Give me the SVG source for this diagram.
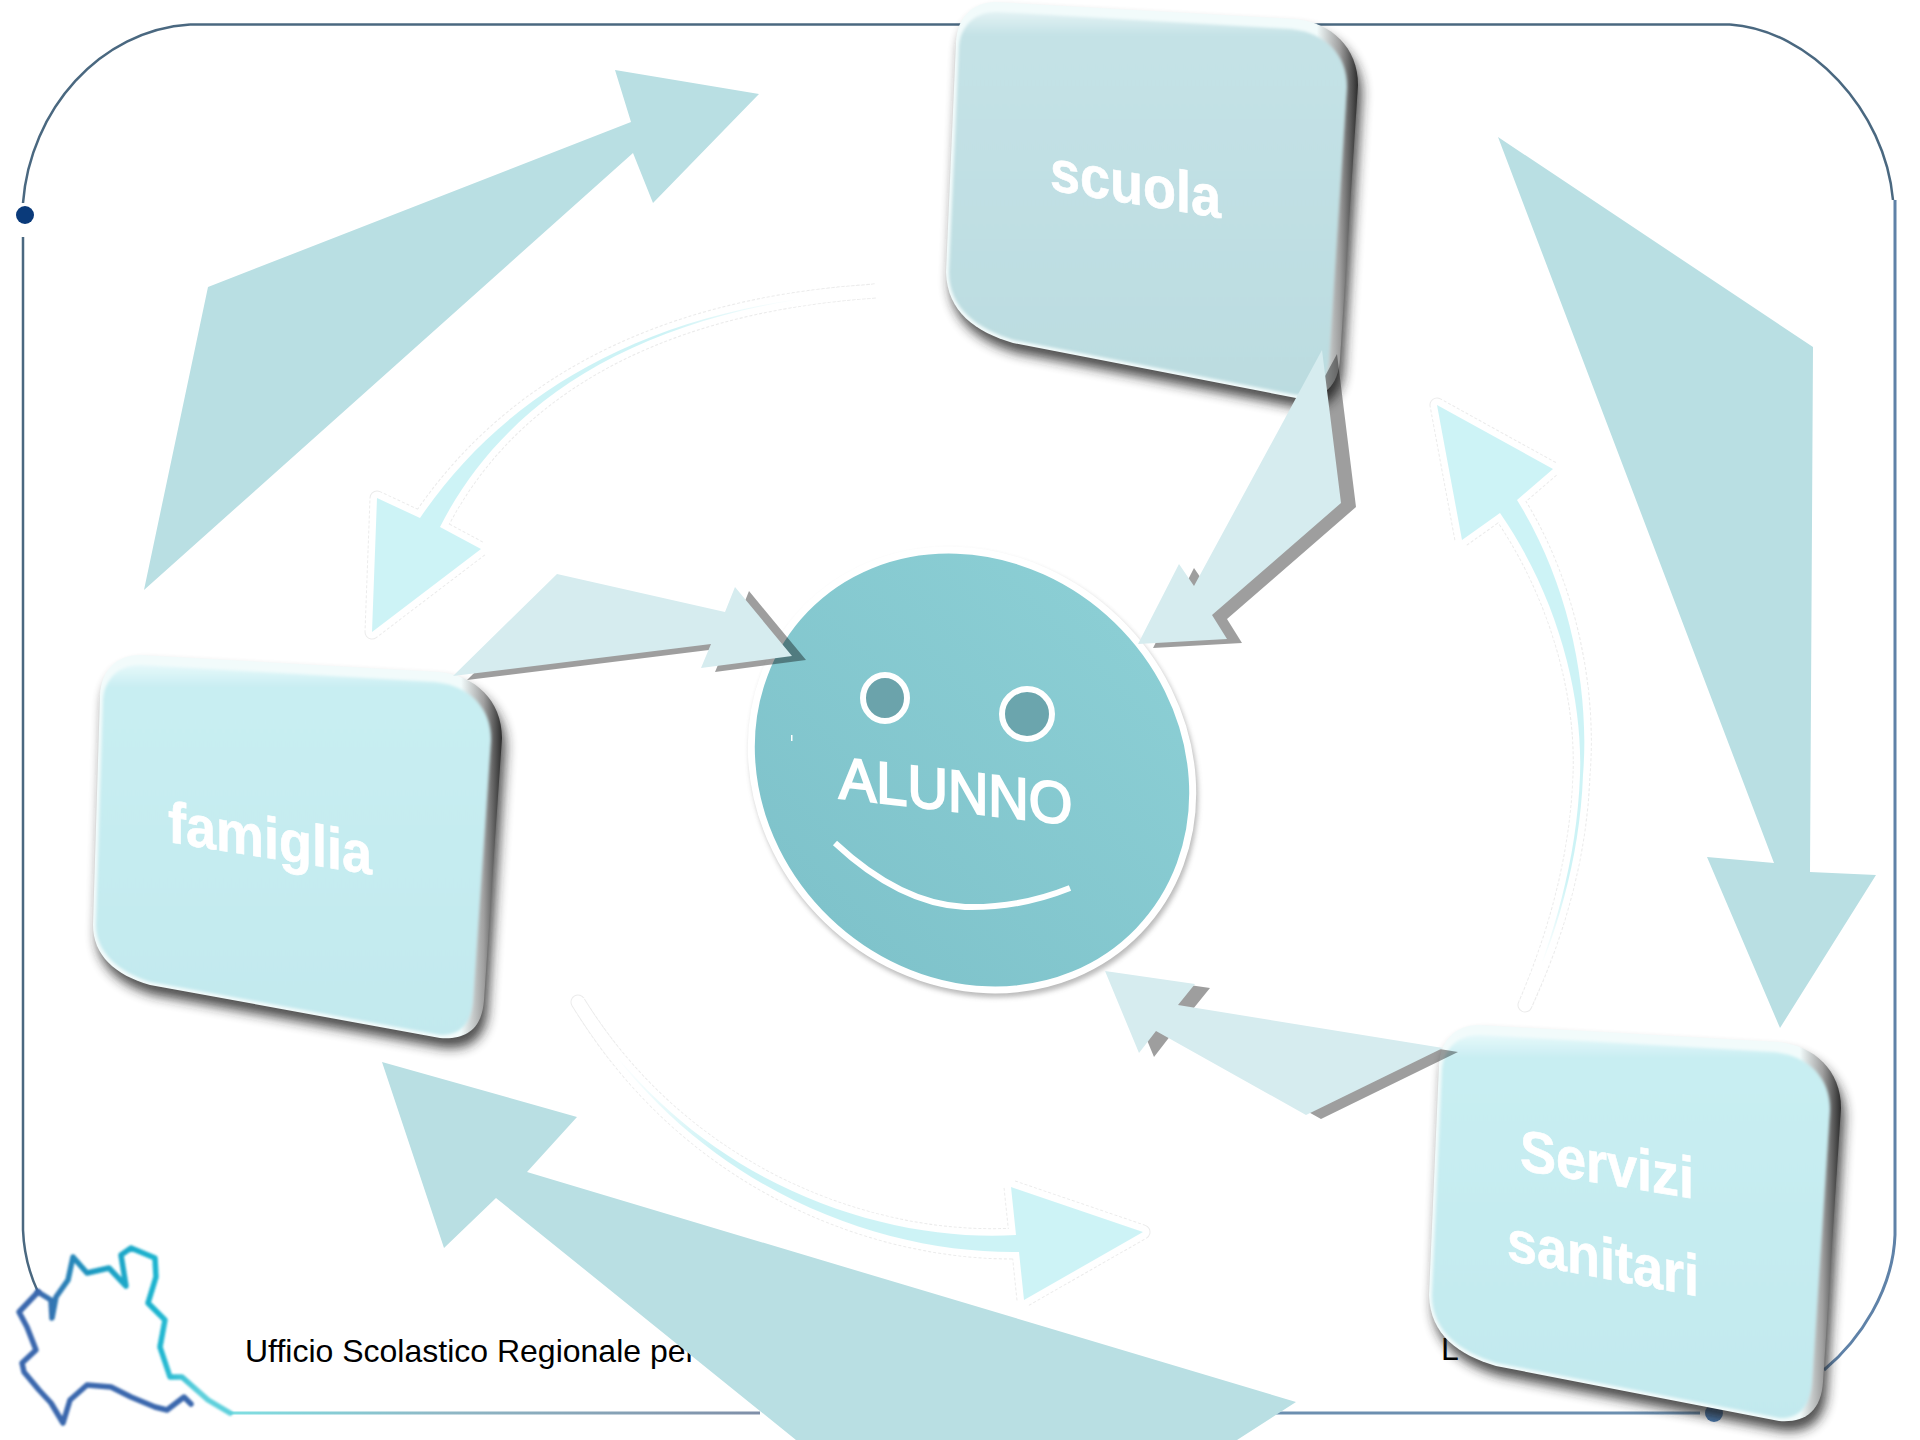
<svg xmlns="http://www.w3.org/2000/svg" width="1920" height="1440" viewBox="0 0 1920 1440">
<style>
.frame{fill:none;stroke:#4a6880;stroke-width:2.5}
.frameR{fill:none;stroke:#5f82a8;stroke-width:3}
.big{fill:#b9dfe3}
.light{fill:#d6ecef}
.shade{fill:#000;opacity:.38}
.caOut{fill:none;stroke:#bdbdbd;stroke-width:15;stroke-dasharray:3 2;stroke-linejoin:round;opacity:.3}
.caHalo{fill:#fff;stroke:#fff;stroke-width:13;stroke-linejoin:round}
.nodeLabel{font-family:"Liberation Sans",Arial,sans-serif;font-weight:700;font-size:54px;fill:#fff;stroke:#fff;stroke-width:.6}
.foot{font-family:"Liberation Sans",Arial,sans-serif;font-size:32px;fill:#000}
.bevel{fill:url(#bevelG)}
.shadow{fill:#222;opacity:.8;filter:url(#b5)}
.faceA{fill:url(#faceA);filter:url(#b1)}
.faceB{fill:url(#faceB);filter:url(#b1)}
.lomb{fill:none;stroke-width:5.5;stroke-linejoin:round;stroke-linecap:round;filter:url(#b05)}
</style>
<defs>
<filter id="b5" x="-10%" y="-10%" width="120%" height="120%"><feGaussianBlur stdDeviation="6"/></filter>
<filter id="b1" x="-5%" y="-5%" width="110%" height="110%"><feGaussianBlur stdDeviation="1.5"/></filter>
<filter id="b05" x="-5%" y="-5%" width="110%" height="110%"><feGaussianBlur stdDeviation=".8"/></filter>
<filter id="b3" x="-5%" y="-5%" width="110%" height="110%"><feGaussianBlur stdDeviation="2.5"/></filter>
<linearGradient id="bevelG" x1="0" y1="0" x2="1" y2="0">
<stop offset="0" stop-color="#f2fbfb"/><stop offset=".9" stop-color="#f2fbfb"/><stop offset=".955" stop-color="#a0a0a0"/><stop offset="1" stop-color="#2c2c2c"/>
</linearGradient>
<linearGradient id="faceA" x1="0" y1="0" x2="0" y2="1">
<stop offset="0" stop-color="#e6f8fa"/><stop offset=".06" stop-color="#c8eef2"/><stop offset="1" stop-color="#c2e9ee"/>
</linearGradient>
<linearGradient id="faceB" x1="0" y1="0" x2="0" y2="1">
<stop offset="0" stop-color="#e3f2f4"/><stop offset=".06" stop-color="#c4e2e6"/><stop offset="1" stop-color="#bbdce0"/>
</linearGradient>
<linearGradient id="ballG" x1="0" y1="0" x2="0" y2="1" gradientUnits="objectBoundingBox">
<stop offset="0" stop-color="#8bced4"/><stop offset="1" stop-color="#7fc3cb"/>
</linearGradient>
<linearGradient id="lombG" gradientUnits="userSpaceOnUse" x1="38" y1="1300" x2="200" y2="1300">
<stop offset="0" stop-color="#3b68ad"/><stop offset=".35" stop-color="#1c9cc2"/><stop offset=".75" stop-color="#1fb6d0"/><stop offset="1" stop-color="#5fd0dc"/>
</linearGradient>
<linearGradient id="botG" gradientUnits="userSpaceOnUse" x1="230" y1="0" x2="760" y2="0">
<stop offset="0" stop-color="#7fdfe2"/><stop offset=".4" stop-color="#8fb8c6"/><stop offset="1" stop-color="#7f8fa8"/>
</linearGradient>
<linearGradient id="ca1" gradientUnits="userSpaceOnUse" x1="440" y1="527" x2="860" y2="291">
<stop offset="0" stop-color="#cdf3f6"/><stop offset=".6" stop-color="#cdf3f6"/><stop offset=".88" stop-color="#fff"/>
</linearGradient>
<linearGradient id="ca2" gradientUnits="userSpaceOnUse" x1="1517" y1="500" x2="1525" y2="1005">
<stop offset="0" stop-color="#cdf3f6"/><stop offset=".75" stop-color="#cdf3f6"/><stop offset=".92" stop-color="#fff"/>
</linearGradient>
<linearGradient id="ca3" gradientUnits="userSpaceOnUse" x1="1016" y1="1235" x2="578" y2="1002">
<stop offset="0" stop-color="#cdf3f6"/><stop offset=".6" stop-color="#cdf3f6"/><stop offset=".88" stop-color="#fff"/>
</linearGradient>
<path id="nOuter" d="M140,655 L440,672 C475,676 502,700 502,738 L484,1000 C482,1030 465,1040 440,1038 L150,985 C115,975 93,955 93,925 L100,695 C101,672 115,655 140,655Z"/>
<path id="nFace" d="M140,665 L435,682 C470,686 491,708 491,740 L473,1000 C471,1025 460,1035 440,1035 L150,982 C118,972 96,952 96,925 L103,700 C104,680 118,665 140,665Z"/>
<path id="nOuter2" d="M140,655 L440,672 C475,676 502,700 502,738 L484,1012 C482,1042 465,1053 440,1051 L157,996 C120,985 91,965 90,925 L100,695 C101,672 115,655 140,655Z"/>
<path id="nFace2" d="M140,665 L435,682 C470,686 491,708 491,740 L473,1012 C471,1037 460,1049 440,1048 L157,993 C122,982 93,962 93,925 L103,700 C104,680 118,665 140,665Z"/>
<polygon id="aA" points="1322,350 1341,503 1212,615 1227,639 1138,644 1179,564 1194,586"/>
<polygon id="aB" points="453,676 557,574 725,612 735,587 792,656 701,668 711,644"/>
<polygon id="aC" points="1105,971 1195,984 1178,1005 1443,1048 1306,1115 1156,1031 1139,1053"/>
<path id="c1" d="M420,518 C500,400 640,305 876,291 C640,307 503,402 440,527 L481,549 L372,632 L377,498 Z"/>
<path id="c2" d="M1517,500 C1570,585 1590,690 1583,775 C1580,860 1555,940 1525,1005 C1553,940 1577,860 1580,775 C1583,700 1560,600 1500,513 L1462,540 L1437,405 L1553,469 Z"/>
<path id="c3" d="M1016,1235 C880,1243 690,1182 578,1002 C692,1189 880,1254 1019,1252 L1024,1300 L1143,1232 L1011,1187 Z"/>
</defs>
<rect width="1920" height="1440" fill="#fff"/>
<g id="frame">
<path class="frame" d="M190,24.5 H1730"/>
<path class="frame" d="M190,24.5 C100,30 30,110 23,203"/>
<path class="frame" d="M1730,24.5 C1810,30 1885,110 1893,200"/>
<path class="frame" d="M23,237 V1230 C24,1255 30,1275 38,1292"/>
<path class="frameR" d="M1895,200 V1235 C1893,1290 1860,1340 1824,1370"/>
<circle cx="25" cy="215" r="9" fill="#0a3a7a"/>
<circle cx="1714" cy="1413" r="9" fill="#4a7ab0"/>
<path fill="none" stroke="url(#botG)" stroke-width="3" d="M230,1413 H760"/>
<path fill="none" stroke="#6c8fb0" stroke-width="3" d="M1270,1413 H1700"/>
</g>
<g id="lombardia">
<path class="lomb" stroke="#3b68ad" d="M38,1292 L19,1312 L27,1327 L36,1350 L22,1363 L24,1372 L39,1390 L51,1403 L63,1423 L70,1400 L87,1385 L111,1387 L131,1397 L155,1407 L167,1410 L184,1397 L191,1404"/>
<path class="lomb" stroke="url(#lombG)" d="M38,1292 L51,1300 L52,1318 L56,1297 L68,1280 L73,1257 L87,1273 L109,1268 L126,1286 L121,1255 L131,1248 L155,1258 L156,1277 L148,1303 L165,1320 L160,1347 L170,1377 L182,1377 L208,1400 L230,1413"/>
</g>
<text class="foot" x="245" y="1362">Ufficio Scolastico Regionale per</text>
<text class="foot" x="1441" y="1360">L</text>
<g id="famiglia">
<use href="#nOuter" class="shadow" transform="translate(4,10)"/>
<use href="#nOuter" class="bevel"/>
<use href="#nFace" class="faceA"/>
<text class="nodeLabel" transform="matrix(1 .16 0 1.08 168 842)">famiglia</text>
</g>
<g id="scuola" transform="translate(856,-653)">
<use href="#nOuter2" class="shadow" transform="translate(4,10)"/>
<use href="#nOuter2" class="bevel"/>
<use href="#nFace2" class="faceB"/>
<text class="nodeLabel" transform="matrix(1 .165 0 1.08 194 843)">scuola</text>
</g>
<g id="servizi" transform="translate(1339,370)">
<use href="#nOuter2" class="shadow" transform="translate(4,10)"/>
<use href="#nOuter2" class="bevel"/>
<use href="#nFace2" class="faceA"/>
<text class="nodeLabel" transform="matrix(1 .165 0 1.08 181 800)">Servizi</text>
<text class="nodeLabel" transform="matrix(1 .19 0 1.08 168 890)">sanitari</text>
</g>
<g id="alunno">
<ellipse cx="974" cy="774" rx="235" ry="212" transform="rotate(44 974 774)" fill="#555" opacity=".4" filter="url(#b3)"/>
<ellipse cx="972" cy="770" rx="231.5" ry="208.5" transform="rotate(44 972 770)" fill="url(#ballG)" stroke="#fff" stroke-width="7"/>
<ellipse cx="885" cy="698" rx="22" ry="23" fill="#6ba3ab" stroke="#fff" stroke-width="6"/>
<ellipse cx="1027" cy="714" rx="25" ry="25" fill="#6ba5ad" stroke="#fff" stroke-width="6"/>
<text transform="matrix(1 .115 0 1.05 839 798)" font-family="'Liberation Sans',Arial,sans-serif" font-size="56" fill="#fff" stroke="#fff" stroke-width="2">ALUNNO</text>
<path d="M835,843 C880,885 925,905 965,907 C1005,908 1040,900 1070,888" fill="none" stroke="#fff" stroke-width="6"/>
<rect x="791" y="735" width="1.5" height="6" fill="#fff"/>
</g>
<g id="connectors">
<polygon class="big" points="144,590 208,287 631,122 615,70 759,94 653,203 633,153"/>
<polygon class="big" points="1498,137 1813,347 1810,872 1876,875 1780,1028 1707,857 1774,863"/>
<polygon class="big" points="1296,1402 527,1172 577,1117 382,1062 444,1248 496,1198 796,1440 1237,1440"/>
<use href="#c1" class="caOut"/><use href="#c1" class="caHalo"/><use href="#c1" fill="url(#ca1)"/>
<use href="#c2" class="caOut"/><use href="#c2" class="caHalo"/><use href="#c2" fill="url(#ca2)"/>
<use href="#c3" class="caOut"/><use href="#c3" class="caHalo"/><use href="#c3" fill="url(#ca3)"/>
<use href="#aA" class="shade" transform="translate(15,4)"/><use href="#aA" class="light"/>
<use href="#aB" class="shade" transform="translate(14,4)"/><use href="#aB" class="light"/>
<use href="#aC" class="shade" transform="translate(15,4)"/><use href="#aC" class="light"/>
</g>
</svg>
